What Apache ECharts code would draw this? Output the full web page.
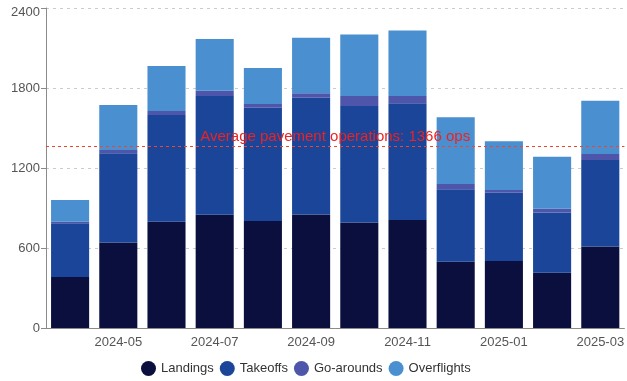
<!DOCTYPE html>
<html>
<head>
<meta charset="utf-8">
<script src="https://cdn.jsdelivr.net/npm/echarts@6/dist/echarts.min.js"></script>
<style>html,body{margin:0;padding:0;background:#fff}#c{width:627px;height:381px}</style>
</head>
<body>
<div id="c"></div>
<script>
const months = ['2024-04','2024-05','2024-06','2024-07','2024-08','2024-09','2024-10','2024-11','2024-12','2025-01','2025-02','2025-03'];
const landings = [382, 642, 797, 850, 802, 852, 792, 810, 497, 502, 415, 612];
const takeoffs = [403, 668, 800, 890, 850, 875, 873, 875, 543, 513, 452, 648];
const goArounds = [12, 25, 30, 40, 28, 33, 75, 55, 40, 20, 28, 45];
const overflights = [163, 337, 338, 387, 270, 417, 462, 492, 500, 365, 390, 400];
const averageOps = 1366;
const yTicks = [0, 600, 1200, 1800, 2400];

const FONT = 'Liberation Sans, Arial, sans-serif';
const colors = ['#0b0f3d', '#1a4599', '#4e56ab', '#4a8fcf'];
function mk(name, data, i) {
  return {
    name, type: 'bar', stack: 'ops', data,
    itemStyle: { color: colors[i] },
    barCategoryGap: '21%'
  };
}
const series = [
  mk('Landings', landings, 0),
  mk('Takeoffs', takeoffs, 1),
  mk('Go-arounds', goArounds, 2),
  mk('Overflights', overflights, 3)
];
series[0].markLine = {
  symbol: 'none', silent: true,
  lineStyle: { color: '#f0442c', type: [3, 3], width: 1 },
  label: {
    position: 'insideMiddleTop', formatter: 'Average pavement operations: ' + averageOps + ' ops',
    color: '#ee2222', fontSize: 15, fontFamily: FONT, distance: 2
  },
  data: [{ yAxis: averageOps }]
};

const yMax = yTicks[yTicks.length - 1];
const chart = echarts.init(document.getElementById('c'));
chart.setOption({
  animation: false,
  color: colors,
  grid: { left: 46, top: 8, bottom: 53, width: 582 },
  legend: {
    bottom: 0, left: 136, icon: 'circle', itemWidth: 15, itemHeight: 15, itemGap: 6,
    textStyle: { color: '#333', fontSize: 13, fontFamily: FONT },
    data: ['Landings', 'Takeoffs', 'Go-arounds', 'Overflights']
  },
  xAxis: {
    type: 'category', data: months,
    axisLine: { lineStyle: { color: '#8a8a8a' } },
    axisTick: { alignWithLabel: true, interval: (i) => i % 2 === 1, lineStyle: { color: '#8a8a8a' } },
    axisLabel: { interval: (i) => i % 2 === 1, color: '#555', fontSize: 13, margin: 8, fontFamily: FONT }
  },
  yAxis: {
    type: 'value', min: yTicks[0], max: yMax, interval: 600,
    axisLine: { show: true, lineStyle: { color: '#8a8a8a' } },
    axisTick: { show: true, lineStyle: { color: '#8a8a8a' } },
    axisLabel: {
      color: '#555', fontSize: 13, fontFamily: FONT, margin: 6,
      formatter: (v) => v === yMax ? '{t|' + v + '}' : String(v),
      rich: { t: { color: '#555', fontSize: 13, fontFamily: FONT, padding: [9, 0, 0, 0] } }
    },
    splitLine: { lineStyle: { color: '#cccccc', type: [3, 4] } }
  },
  series
});
</script>
</body>
</html>
